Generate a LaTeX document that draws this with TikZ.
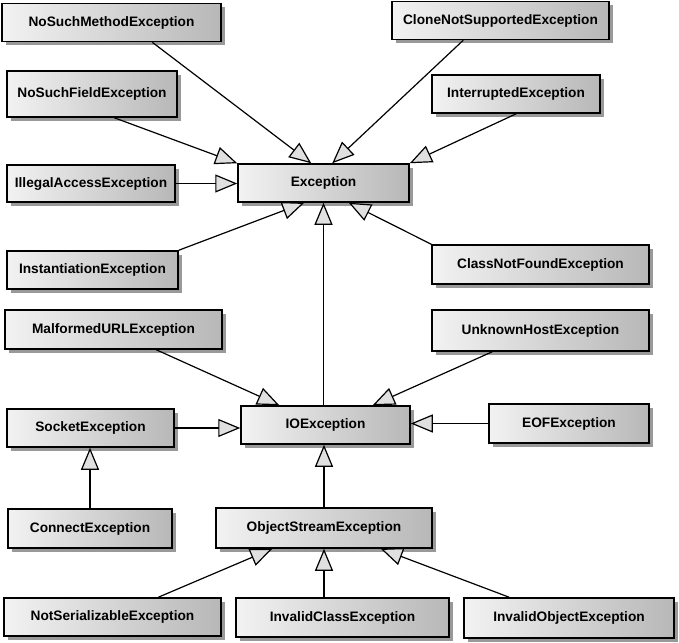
\documentclass[tikz,border=0pt]{standalone}
\usepackage{fontspec}
\setmainfont{Liberation Sans}
\usetikzlibrary{arrows.meta,shadows}
\begin{document}
\begin{tikzpicture}[x=1pt,y=-1pt,
  cls/.style={draw=black, line width=1.5pt, left color=black!5, right color=black!28,
    inner sep=0pt, font=\fontsize{13.7}{16}\selectfont\bfseries,
    drop shadow={shadow xshift=4pt, shadow yshift=-4pt, opacity=0.4, fill=black}},
  gen/.style={draw=black, line width=1.2pt, -{Triangle[length=22pt,width=18pt,fill=black!12]}}]
\useasboundingbox (0,0) rectangle (679,642);

\node[cls, minimum width=219pt, minimum height=38pt] (nsm) at (111.5,22.5) {NoSuchMethodException};
\node[cls, minimum width=217pt, minimum height=38pt] (cns) at (500.5,20.5) {CloneNotSupportedException};
\node[cls, minimum width=170pt, minimum height=46pt] (nsf) at (92,94) {NoSuchFieldException};
\node[cls, minimum width=168pt, minimum height=38pt] (int) at (516,94) {InterruptedException};
\node[cls, minimum width=168pt, minimum height=37pt] (iae) at (91,183.5) {IllegalAccessException};
\node[cls, minimum width=171pt, minimum height=38pt] (exc) at (323.5,183) {Exception};
\node[cls, minimum width=171pt, minimum height=38pt] (ins) at (92.5,270) {InstantiationException};
\node[cls, minimum width=217pt, minimum height=39pt] (cnf) at (540.5,264.5) {ClassNotFoundException};
\node[cls, minimum width=217pt, minimum height=39pt] (mal) at (113.5,329.5) {MalformedURLException};
\node[cls, minimum width=217pt, minimum height=41pt] (uhe) at (540.5,330.5) {UnknownHostException};
\node[cls, minimum width=167pt, minimum height=38pt] (soc) at (90.5,428) {SocketException};
\node[cls, minimum width=169pt, minimum height=38pt] (ioe) at (325.5,425) {IOException};
\node[cls, minimum width=160pt, minimum height=39pt] (eof) at (569,423.5) {EOFException};
\node[cls, minimum width=164pt, minimum height=39pt] (con) at (90,528.5) {ConnectException};
\node[cls, minimum width=216pt, minimum height=40pt] (ose) at (324,528) {ObjectStreamException};
\node[cls, minimum width=217pt, minimum height=38pt] (nse) at (112.5,617) {NotSerializableException};
\node[cls, minimum width=213pt, minimum height=39pt] (ice) at (342.5,617.5) {InvalidClassException};
\node[cls, minimum width=210pt, minimum height=40pt] (iob) at (569,618) {InvalidObjectException};

\draw[gen] ([xshift=151pt]nsm.south west) -- ([xshift=74pt]exc.north west);
\draw[gen] ([xshift=108pt]nsf.south west) -- (exc.north west);
\draw[gen] (iae.east) -- (iae.east -| exc.west);
\draw[gen] ([xshift=72pt]cns.south west) -- ([xshift=95pt]exc.north west);
\draw[gen] ([xshift=85pt]int.south west) -- (exc.north east);
\draw[gen] (ins.north east) -- ([xshift=67pt]exc.south west);
\draw[gen] (exc.south |- ioe.north) -- (exc.south);
\draw[gen] (cnf.north west) -- ([xshift=-61pt]exc.south east);
\draw[gen] ([xshift=152pt]mal.south west) -- ([xshift=39pt]ioe.north west);
\draw[gen] ([xshift=61pt]uhe.south west) -- ([xshift=-38pt]ioe.north east);
\draw[gen] (soc.east) -- (soc.east -| ioe.west);
\draw[gen] (eof.west) -- (eof.west -| ioe.east);
\draw[gen] (con.north) -- (con.north |- soc.south);
\draw[gen] (ose.north) -- (ose.north |- ioe.south);
\draw[gen] ([xshift=155pt]nse.north west) -- ([xshift=57pt]ose.south west);
\draw[gen] (ose.south |- ice.north) -- (ose.south);
\draw[gen] ([xshift=46pt]iob.north west) -- ([xshift=-52pt]ose.south east);
\end{tikzpicture}
\end{document}
